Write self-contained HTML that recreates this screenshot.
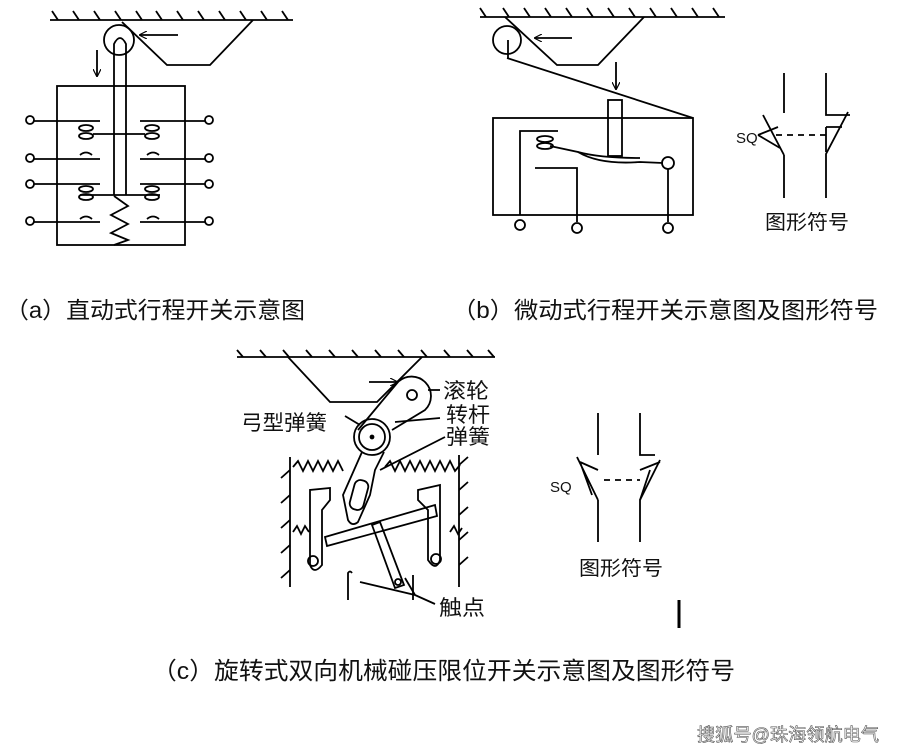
<!DOCTYPE html>
<html><head><meta charset="utf-8"><style>
html,body{margin:0;padding:0;background:#fff;}
svg{display:block;}
.t{font-family:"Liberation Sans","Noto Sans CJK SC",sans-serif;fill:#111;}
</style></head><body>
<svg width="900" height="754" viewBox="0 0 900 754" xmlns="http://www.w3.org/2000/svg">
<defs>
<marker id="ar" markerWidth="8" markerHeight="8" refX="7" refY="4" orient="auto" markerUnits="userSpaceOnUse"><path d="M0,0 L8,4 L0,8" fill="none" stroke="#000" stroke-width="1.2"/></marker>
</defs>
<g fill="none" stroke="#000" stroke-width="1.8">
<!-- Panel a -->
<line x1="50" y1="20" x2="293" y2="20"/>
<path d="M52,11 l6,9 M73,11 l6,9 M94,11 l6,9 M115,11 l6,9 M136,11 l6,9 M156,11 l6,9 M177,11 l6,9 M198,11 l6,9 M219,11 l6,9 M240,11 l6,9 M261,11 l6,9 M282,11 l6,9"/>
<path d="M122,22 L167,65 L210,65 L253,20"/>
<circle cx="119" cy="40" r="15"/>
<line x1="178" y1="35" x2="140" y2="35" marker-end="url(#ar)"/>
<line x1="97" y1="50" x2="97" y2="76" marker-end="url(#ar)"/>
<path d="M114,195 L114,44 Q120,32 126,44 L126,195"/>
<rect x="57" y="86" width="128" height="159"/>
<g>
<circle cx="30" cy="120" r="4"/><circle cx="30" cy="158" r="4"/><circle cx="30" cy="184" r="4"/><circle cx="30" cy="221" r="4"/>
<circle cx="209" cy="120" r="4"/><circle cx="209" cy="158" r="4"/><circle cx="209" cy="184" r="4"/><circle cx="209" cy="221" r="4"/>
<path d="M34,121 H100 M34,159 H100 M34,184 H100 M34,222 H100"/>
<path d="M140,121 H205 M140,159 H205 M140,184 H205 M140,222 H205"/>
<path d="M80,155 Q86,150 92,155 M80,219 Q86,214 92,219 M147,155 Q153,150 159,155 M147,219 Q153,214 159,219"/>
<ellipse cx="86" cy="128" rx="7" ry="3"/><ellipse cx="86" cy="136" rx="7" ry="3"/>
<ellipse cx="152" cy="128" rx="7" ry="3"/><ellipse cx="152" cy="136" rx="7" ry="3"/>
<ellipse cx="86" cy="189" rx="7" ry="3"/><ellipse cx="86" cy="197" rx="7" ry="3"/>
<ellipse cx="152" cy="189" rx="7" ry="3"/><ellipse cx="152" cy="197" rx="7" ry="3"/>
<line x1="93" y1="134" x2="145" y2="134"/>
<line x1="80" y1="195" x2="160" y2="195"/>
<path d="M114,196 L128,206 L111,215 L128,224 L111,233 L128,240 L114,245"/>
</g>
<!-- Panel b -->
<line x1="480" y1="17" x2="725" y2="17"/>
<path d="M480,8 l6,9 M503,8 l6,9 M524,8 l6,9 M545,8 l6,9 M566,8 l6,9 M587,8 l6,9 M608,8 l6,9 M629,8 l6,9 M650,8 l6,9 M671,8 l6,9 M692,8 l6,9 M713,8 l6,9"/>
<path d="M505,17 L557,65 L598,65 L644,17"/>
<circle cx="507" cy="40" r="14"/>
<path d="M508,58 L508,40"/>
<line x1="572" y1="38" x2="535" y2="38" marker-end="url(#ar)"/>
<line x1="507" y1="58" x2="693" y2="118"/>
<line x1="616" y1="62" x2="616" y2="89" marker-end="url(#ar)"/>
<rect x="608" y="100" width="14" height="56"/>
<rect x="493" y="118" width="200" height="97"/>
<path d="M520,215 V131 H558"/>
<ellipse cx="545" cy="139" rx="8" ry="3"/><ellipse cx="545" cy="146" rx="8" ry="3"/>
<path d="M550,146 L578,152 Q600,165 640,162 L663,163"/>
<path d="M578,152 Q600,158 640,158"/>
<circle cx="668" cy="163" r="6"/>
<path d="M668,169 V222"/>
<path d="M535,168 H577 V222"/>
<circle cx="520" cy="225" r="5"/><circle cx="577" cy="228" r="5"/><circle cx="668" cy="228" r="5"/>
<path d="M784,73 V113 M784,155 V198 M826,73 V115 H850"/>
<path d="M763,115 L784,155 M826,198 V154 L848,112"/>
<path d="M758,135 L778,127 M758,135 L780,148"/>
<path d="M826,127 H842 M826,127 V152"/>
<path d="M776,135 H826" stroke-dasharray="6,5"/>
<!-- Panel c -->
<line x1="237" y1="357" x2="495" y2="357"/>
<path d="M237,350 l6,7 M260,350 l6,7 M283,350 l6,7 M306,350 l6,7 M329,350 l6,7 M352,350 l6,7 M375,350 l6,7 M398,350 l6,7 M421,350 l6,7 M444,350 l6,7 M467,350 l6,7 M488,350 l6,7"/>
<path d="M288,357 L330,402 L377,402 L422,357"/>
<line x1="369" y1="382" x2="397" y2="382" marker-end="url(#ar)"/>
<path d="M398,382 A17,17 0 1 1 425,410 L392,430 M398,382 L358,430"/>
<circle cx="412" cy="395" r="5"/>
<circle cx="372" cy="437" r="18"/><circle cx="372" cy="437" r="13"/>
<circle cx="372" cy="437" r="1.5" fill="#000"/>
<path d="M290,457 V587 M459,455 V587"/>
<path d="M290,470 l-9,8 M290,495 l-9,8 M290,520 l-9,8 M290,545 l-9,8 M290,570 l-9,8 M459,465 l9,-8 M459,490 l9,-8 M459,515 l9,-8 M459,540 l9,-8 M459,565 l9,-8"/>
<path d="M293,467 l5,-6 5,10 5,-10 5,10 5,-10 5,10 5,-10 5,10 5,-10 5,10 M385,467 l5,-6 5,10 5,-10 5,10 5,-10 5,10 5,-10 5,10 5,-10 5,10 5,-10 5,10 5,-10 5,10 5,-6"/>
<path d="M362,452 L343,495 L348,520 Q352,527 358,522 L370,495 L375,470 L384,452"/>
<rect x="352" y="480" width="14" height="30" rx="6" transform="rotate(15 359 495)"/>
<path d="M325,537 L435,505 L437,516 L327,546 Z"/>
<path d="M310,490 V565 Q314,575 322,565 V510 L330,500 V488 Z"/>
<circle cx="313" cy="561" r="5"/>
<path d="M440,485 V560 Q436,572 428,560 V510 L418,500 V490 Z"/>
<circle cx="436" cy="559" r="5"/>
<path d="M293,532 l4,-6 4,8 4,-8 4,6 M450,532 l4,-6 4,8 4,-6"/>
<path d="M372,525 L395,588 L404,585 L380,522 Z"/>
<circle cx="398" cy="582" r="3"/>
<path d="M348,600 V573 Q350,570 352,573 M413,600 V575"/>
<path d="M360,582 L415,595 L435,604 M405,578 L415,595"/>
<path d="M428,390 H440 M395,422 L440,418 M345,416 L360,425 M380,470 L445,437"/>
<!-- Panel c symbol -->
<path d="M598,413 V455 M598,500 V542 M640,413 V455 H655 M640,542 V500 L660,460"/>
<path d="M577,457 L598,500 M580,462 L598,470 M580,462 L592,495"/>
<path d="M640,470 L660,462 M640,500 L650,470"/>
<path d="M604,480 H640" stroke-dasharray="6,5"/>
</g>
<line x1="679" y1="600" x2="679" y2="628" stroke="#000" stroke-width="3"/>
<g class="t">
<text x="736" y="143" font-size="15">SQ</text>
<text x="765" y="229" font-size="20" textLength="84" lengthAdjust="spacingAndGlyphs">图形符号</text>
<text x="550" y="492" font-size="15">SQ</text>
<text x="579" y="575" font-size="20" textLength="84" lengthAdjust="spacingAndGlyphs">图形符号</text>
<text x="443" y="398" font-size="21" textLength="46" lengthAdjust="spacingAndGlyphs">滚轮</text>
<text x="446" y="422" font-size="21" textLength="44" lengthAdjust="spacingAndGlyphs">转杆</text>
<text x="446" y="444" font-size="21" textLength="44" lengthAdjust="spacingAndGlyphs">弹簧</text>
<text x="241" y="430" font-size="21" textLength="86" lengthAdjust="spacingAndGlyphs">弓型弹簧</text>
<text x="439" y="615" font-size="21" textLength="46" lengthAdjust="spacingAndGlyphs">触点</text>
<text x="5" y="318" font-size="23" textLength="300" lengthAdjust="spacingAndGlyphs">（a）直动式行程开关示意图</text>
<text x="452" y="318" font-size="23" textLength="426" lengthAdjust="spacingAndGlyphs">（b）微动式行程开关示意图及图形符号</text>
<text x="152" y="679" font-size="24" textLength="583" lengthAdjust="spacingAndGlyphs">（c）旋转式双向机械碰压限位开关示意图及图形符号</text>
<text x="697" y="741" font-size="18" fill="#fff" stroke="#555" stroke-width="0.6" textLength="182" lengthAdjust="spacingAndGlyphs">搜狐号@珠海领航电气</text>
</g>
</svg>
</body></html>
